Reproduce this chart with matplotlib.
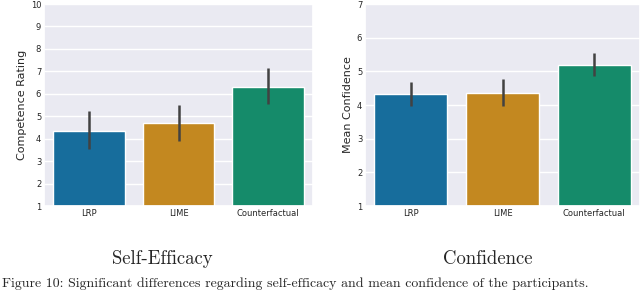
import matplotlib
matplotlib.use("Agg")
import matplotlib.pyplot as plt
import seaborn as sns
import numpy as np

categories = ["LRP", "LIME", "Counterfactual"]
self_eff_mean = [4.35, 4.70, 6.32]
self_eff_lo = [3.55, 3.90, 5.55]
self_eff_hi = [5.25, 5.50, 7.15]
conf_mean = [4.32, 4.36, 5.20]
conf_lo = [3.97, 3.97, 4.85]
conf_hi = [4.67, 4.77, 5.55]

sns.set_theme(style="darkgrid")
plt.rcParams['font.family'] = ['DejaVu Sans']
pal = sns.color_palette("colorblind", 3, desat=0.75)

fig = plt.figure(figsize=(6.4, 2.91), dpi=100)
W, H = 640, 291
ax1 = fig.add_axes([44 / W, 1 - 206 / H, (313 - 44) / W, (206 - 4) / H])
ax2 = fig.add_axes([365 / W, 1 - 206 / H, (640 - 365) / W, (206 - 4) / H])

def draw(ax, means, lo, hi, ymax, ylabel):
    x = np.arange(len(categories))
    ax.bar(x, np.array(means) - 1, bottom=1, width=0.8, color=pal, edgecolor="white", linewidth=1)
    ax.vlines(x, lo, hi, color="#424242", linewidth=1.8)
    ax.set_xlim(-0.5, len(categories) - 0.5)
    ax.set_ylim(1, ymax)
    ax.set_yticks(np.arange(1, ymax + 1))
    ax.set_xticks(x)
    ax.set_xticklabels(categories)
    ax.tick_params(axis="both", labelsize=6, pad=2, length=0)
    ax.set_ylabel(ylabel, fontsize=8, labelpad=3)
    ax.grid(axis="x", visible=False)

draw(ax1, self_eff_mean, self_eff_lo, self_eff_hi, 10, "Competence Rating")
draw(ax2, conf_mean, conf_lo, conf_hi, 7, "Mean Confidence")

fig.text(162 / W, 1 - 259 / H, "Self-Efficacy", family="cmr10", fontsize=13.5, ha="center", va="center")
fig.text(488 / W, 1 - 259 / H, "Confidence", family="cmr10", fontsize=13.5, ha="center", va="center")
fig.text(0.003, 0.004, "Figure 10: Significant differences regarding self-efficacy and mean confidence of the participants.",
         family="cmr10", fontsize=10, ha="left", va="bottom")

fig.savefig("out.png", dpi=100)
